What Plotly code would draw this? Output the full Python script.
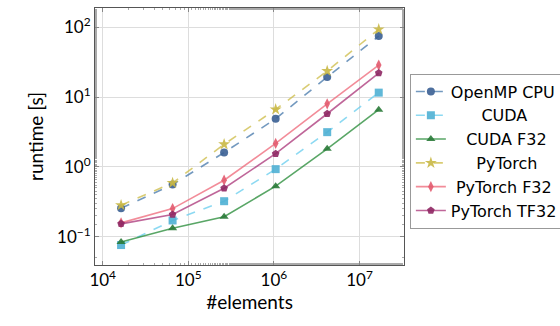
import plotly.graph_objects as go

elements = [16384, 65536, 262144, 1048576, 4194304, 16777216]
openmp_cpu = [0.256, 0.56, 1.61, 4.9, 19.4, 75.0]
cuda = [0.076, 0.171, 0.323, 0.93, 3.15, 11.6]
cuda_f32 = [0.084, 0.132, 0.193, 0.53, 1.82, 6.6]
pytorch = [0.283, 0.59, 2.11, 6.67, 23.7, 93.6]
pytorch_f32 = [0.158, 0.253, 0.645, 2.17, 8.03, 28.8]
pytorch_tf32 = [0.153, 0.208, 0.495, 1.55, 5.78, 22.1]

NB = "\u00a0"
series = [
    ("OpenMP CPU", 0, openmp_cpu, "68,119,170", "#3A5F94", "circle", "dash", 8),
    ("CUDA", 6, cuda, "102,204,238", "#4FB0D4", "square", "dash", 8),
    ("CUDA F32", 3, cuda_f32, "34,136,51", "#2A7A38", "triangle-up", "solid", 8),
    ("PyTorch", 5, pytorch, "204,187,68", "#C9B845", "star", "dash", 9),
    ("PyTorch F32", 1, pytorch_f32, "238,102,119", "#E25A6E", "diamond-tall", "solid", 8),
    ("PyTorch TF32", 0, pytorch_tf32, "170,51,119", "#8E2763", "pentagon", "solid", 8),
]

font = "Lato"
fig = go.Figure()
for name, pad, vals, rgb, mcol, sym, dash, ms in series:
    fig.add_trace(go.Scatter(
        x=elements, y=vals, name=NB * pad + name, mode="lines+markers",
        line=dict(color=f"rgba({rgb},0.75)", width=1.6, dash=dash),
        marker=dict(symbol=sym, size=ms, color=mcol, opacity=0.9),
    ))

xt = [1e4, 1e5, 1e6, 1e7]
yt = [0.1, 1, 10, 100]
fig.update_layout(
    width=560, height=326,
    margin=dict(l=95, r=156, t=8, b=61, autoexpand=False),
    paper_bgcolor="white", plot_bgcolor="white",
    font=dict(family=font, size=16, color="black"),
    legend=dict(x=1.019, y=0.745, xanchor="left", yanchor="top",
                bordercolor="#999999", borderwidth=1,
                font=dict(size=16, family="DejaVu Sans"), tracegroupgap=0,
                itemwidth=30),
    showlegend=True,
)
fig.update_xaxes(
    type="log", range=[3.91, 7.52],
    tickvals=xt, ticktext=["10<sup>4</sup>", "10<sup>5</sup>", "10<sup>6</sup>", "10<sup>7</sup>"],
    showgrid=True, gridcolor="#dddddd", gridwidth=1,
    showline=True, linecolor="#555555", linewidth=1, mirror="ticks",
    ticks="inside", ticklen=4, tickcolor="#888888",
    minor=dict(ticks="inside", ticklen=2, tickcolor="#aaaaaa", showgrid=False),
    title=dict(text="#elements", standoff=4),
    tickfont=dict(size=17),
)
fig.update_yaxes(
    type="log", range=[-1.405, 2.277],
    tickvals=yt, ticktext=["10<sup>\u22121</sup>", "10<sup>0</sup>", "10<sup>1</sup>", "10<sup>2</sup>"],
    showgrid=True, gridcolor="#dddddd", gridwidth=1,
    showline=True, linecolor="#555555", linewidth=1, mirror="ticks",
    ticks="inside", ticklen=4, tickcolor="#888888",
    minor=dict(ticks="inside", ticklen=2, tickcolor="#aaaaaa", showgrid=False),
    title=dict(text="runtime [s]", standoff=8),
    tickfont=dict(size=17),
)
fig.write_html("out.html")
